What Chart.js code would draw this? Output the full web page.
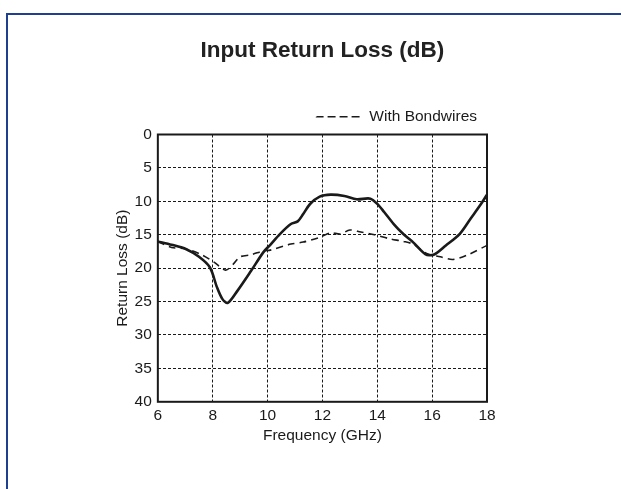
<!DOCTYPE html>
<html>
<head>
<meta charset="utf-8">
<script src="https://cdn.jsdelivr.net/npm/chart.js@4.4.1/dist/chart.umd.min.js"></script>
<style>
    html, body { margin: 0; padding: 0; background: #fff; }
    #frame {
        position: absolute; left: 6px; top: 13px; width: 700px; height: 600px;
        border-left: 2px solid #1f3f8f; border-top: 2px solid #1f3f8f;
    }
    #wrap { position: absolute; left: 0; top: 0; width: 621px; height: 489px; }
</style>
</head>
<body>
<div id="frame"></div>
<div id="wrap"><canvas id="return-loss"></canvas></div>
<script>
"use strict";

// solid trace (no label in legend)
const solidFreq = [6.0, 6.5, 7.0, 7.5, 7.9, 8.15, 8.35, 8.55, 8.9, 9.4, 9.85, 10.1, 10.45, 10.85, 11.1, 11.3, 11.55, 11.9, 12.3, 12.8, 13.25, 13.75, 14.05, 14.25, 14.6, 14.95, 15.3, 15.75, 16.05, 16.5, 17.0, 17.4, 17.75, 18.0];
const solidLoss = [16.0, 16.5, 17.1, 18.3, 19.9, 22.8, 24.6, 25.2, 23.4, 20.4, 17.6, 16.5, 14.9, 13.4, 13.0, 11.9, 10.4, 9.3, 9.0, 9.2, 9.7, 9.6, 10.6, 11.6, 13.4, 14.9, 16.1, 17.9, 18.0, 16.6, 14.9, 12.6, 10.6, 9.0];

// dashed trace, with bondwires
const bondFreq = [6.0, 6.5, 7.0, 7.55, 8.05, 8.47, 8.75, 9.0, 9.4, 9.85, 10.1, 10.85, 11.3, 11.9, 12.3, 12.65, 13.0, 13.4, 13.9, 14.45, 14.95, 15.3, 15.8, 16.3, 16.75, 17.25, 18.0];
const bondLoss = [16.0, 16.9, 17.1, 17.9, 19.1, 20.3, 19.4, 18.3, 18.0, 17.4, 17.3, 16.4, 16.1, 15.4, 14.7, 14.9, 14.3, 14.6, 15.0, 15.6, 16.0, 16.4, 17.8, 18.3, 18.7, 18.1, 16.6];

const xTicks = [6, 8, 10, 12, 14, 16, 18];
const yTicks = [0, 5, 10, 15, 20, 25, 30, 35, 40];

const ink = '#1a1a1a';
const fontFamily = '"Liberation Sans", Arial, sans-serif';
const labelSize = 15.5;

const toPoints = (xs, ys) => xs.map((x, i) => ({ x: x, y: ys[i] }));

// solid box around the plot area
const plotFrame = {
    id: 'plotFrame',
    afterDatasetsDraw(chart) {
        const a = chart.chartArea;
        const ctx = chart.ctx;
        ctx.save();
        ctx.strokeStyle = ink;
        ctx.lineWidth = 2;
        ctx.setLineDash([]);
        ctx.strokeRect(a.left, a.top, a.right - a.left, a.bottom - a.top);
        ctx.restore();
    }
};

const edgeColor = (first, last) => (c) => {
    const v = c.tick ? c.tick.value : null;
    return (v === first || v === last) ? 'rgba(0,0,0,0)' : ink;
};

Chart.defaults.font.family = fontFamily;
Chart.defaults.color = ink;

const ctx = document.getElementById('return-loss').getContext('2d');
new Chart(ctx, {
    type: 'line',
    data: {
        datasets: [
            {
                label: 'With Bondwires',
                data: toPoints(bondFreq, bondLoss),
                borderColor: ink,
                backgroundColor: ink,
                borderWidth: 1.6,
                borderDash: [7, 5],
                pointRadius: 0,
                tension: 0.3,
                fill: false
            },
            {
                label: 'Without',
                data: toPoints(solidFreq, solidLoss),
                borderColor: ink,
                backgroundColor: ink,
                borderWidth: 2.6,
                pointRadius: 0,
                tension: 0.3,
                fill: false
            }
        ]
    },
    options: {
        responsive: true,
        maintainAspectRatio: false,
        animation: false,
        layout: { padding: { left: 109, right: 134, top: 0, bottom: 40 } },
        plugins: {
            title: {
                display: true,
                fullSize: false,
                text: 'Input Return Loss (dB)',
                font: { size: 22.5, weight: 'bold' },
                color: '#222',
                padding: { top: 37, bottom: 35 }
            },
            legend: {
                display: true,
                fullSize: false,
                position: 'top',
                align: 'end',
                labels: {
                    filter: (item) => item.text === 'With Bondwires',
                    boxWidth: 45,
                    boxHeight: 0.01,
                    font: { size: labelSize },
                    padding: 10
                }
            },
            tooltip: { enabled: false }
        },
        scales: {
            x: {
                type: 'linear',
                min: 6,
                max: 18,
                afterBuildTicks: (axis) => { axis.ticks = xTicks.map(v => ({ value: v })); },
                ticks: { font: { size: labelSize }, padding: 5 },
                grid: { color: edgeColor(6, 18), lineWidth: 1, drawTicks: false },
                border: { display: false, dash: [3, 2] },
                title: { display: true, text: 'Frequency (GHz)', font: { size: labelSize }, padding: { top: -4, bottom: 4 } }
            },
            y: {
                type: 'linear',
                reverse: true,
                min: 0,
                max: 40,
                afterBuildTicks: (axis) => { axis.ticks = yTicks.map(v => ({ value: v })); },
                ticks: { font: { size: labelSize }, padding: 6 },
                grid: { color: edgeColor(0, 40), lineWidth: 1, drawTicks: false },
                border: { display: false, dash: [3, 2] },
                title: { display: true, text: 'Return Loss (dB)', font: { size: labelSize }, padding: { top: 4, bottom: -3 } }
            }
        }
    },
    plugins: [plotFrame]
});
</script>
</body>
</html>
